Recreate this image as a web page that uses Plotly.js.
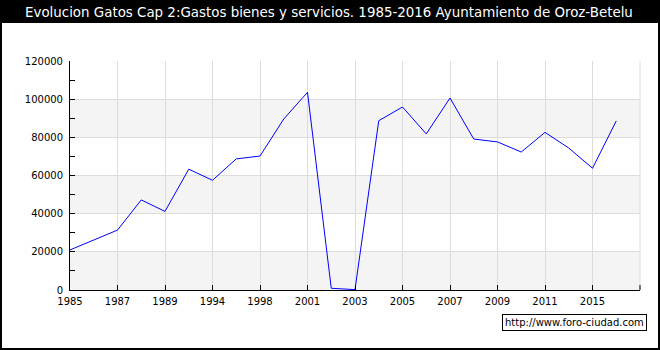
<!DOCTYPE html>
<html>
<head>
<meta charset="utf-8">
<script src="https://cdn.plot.ly/plotly-3.0.1.min.js"></script>
<style>html,body{margin:0;padding:0;background:#fff;}#chart{width:660px;height:350px;}</style>
</head>
<body>
<div id="chart"></div>
<script>
// Data
const years = ["1985","1986","1987","1988","1989","1993","1994","1996","1998","2000","2001","2002","2003","2004","2005","2006","2007","2008","2009","2010","2011","2012","2015","2016"];
const gastos = [21000,26000,31400,47200,41200,63300,57500,68700,70200,89600,103600,900,200,88700,95900,81800,100600,79100,77600,72300,82600,74400,63800,88600];
const bandStarts = [0, 40000, 80000];
const bandSize = 20000;
const titleText = "Evolucion Gatos Cap 2:Gastos bienes y servicios. 1985-2016 Ayuntamiento de Oroz-Betelu";
const watermark = "http://www.foro-ciudad.com";

// geometry helpers (pixel layout)
const W = 660, H = 350, L = 70, R = 20, T = 61, B = 60;
const pw = W - L - R, ph = H - T - B;
const px = x => (x - L) / pw;
const py = y => (H - B - y) / ph;

const shapes = bandStarts.map(s => ({
  type: 'rect', xref: 'paper', yref: 'y', x0: 0, x1: 1, y0: s, y1: s + bandSize,
  fillcolor: '#f4f4f4', line: {width: 0}, layer: 'below'
}));
// right-edge grid line and tick
shapes.push({type:'line', xref:'paper', yref:'paper', x0:1, x1:1, y0:0, y1:1,
  line:{color:'#dcdcdc', width:1}, layer:'below'});
shapes.push({type:'line', xref:'paper', yref:'paper', x0:1, x1:1, y0:0, y1:5/ph,
  line:{color:'#000', width:1}});
// title band
shapes.push({type:'rect', xref:'paper', yref:'paper', x0: px(0), x1: px(W), y0: py(23), y1: py(0),
  fillcolor:'#000', line:{width:0}, layer:'below'});
// outer frame
shapes.push({type:'rect', xref:'paper', yref:'paper', x0: px(1), x1: px(W-1), y0: py(H-1), y1: py(1),
  fillcolor:'rgba(0,0,0,0)', line:{color:'#000', width:2}, layer:'below'});

const trace = {
  type: 'scatter', mode: 'lines', x: years, y: gastos,
  line: {color: '#0000ff', width: 1}, hoverinfo: 'skip'
};

const layout = {
  width: W, height: H,
  margin: {l: L, r: R, t: T, b: B},
  paper_bgcolor: '#fff', plot_bgcolor: 'rgba(0,0,0,0)',
  showlegend: false,
  font: {family: 'DejaVu Sans', size: 10, color: '#000'},
  xaxis: {
    type: 'category', range: [0, 24], tickmode: 'linear', tick0: 0, dtick: 2,
    showline: true, linecolor: '#000', linewidth: 1,
    ticks: 'inside', ticklen: 5, tickcolor: '#000',
    showgrid: true, gridcolor: '#dcdcdc', gridwidth: 1,
    zeroline: false, tickangle: 0, ticklabelstandoff: 2
  },
  yaxis: {
    range: [0, 120000], tickmode: 'linear', tick0: 0, dtick: 20000,
    showline: true, linecolor: '#000', linewidth: 1,
    ticks: 'inside', ticklen: 5, tickcolor: '#000',
    minor: {dtick: 10000, ticks: 'inside', ticklen: 5, tickcolor: '#000', showgrid: false},
    showgrid: true, gridcolor: '#dcdcdc', gridwidth: 1,
    zeroline: false, tickformat: 'd', ticklabelstandoff: 4
  },
  shapes: shapes,
  annotations: [
    {text: titleText, xref: 'paper', yref: 'paper', x: px(329), y: py(12),
     xanchor: 'center', yanchor: 'middle', showarrow: false,
     font: {family: 'DejaVu Sans', size: 13.4, color: '#fff'}},
    {text: watermark, xref: 'paper', yref: 'paper', x: px(647), y: py(322),
     xanchor: 'right', yanchor: 'middle', showarrow: false,
     bgcolor: '#fff', bordercolor: '#000', borderwidth: 1, borderpad: 2,
     font: {family: 'DejaVu Sans', size: 10, color: '#000'}}
  ]
};

Plotly.newPlot('chart', [trace], layout, {displayModeBar: false, staticPlot: true});
</script>
</body>
</html>
